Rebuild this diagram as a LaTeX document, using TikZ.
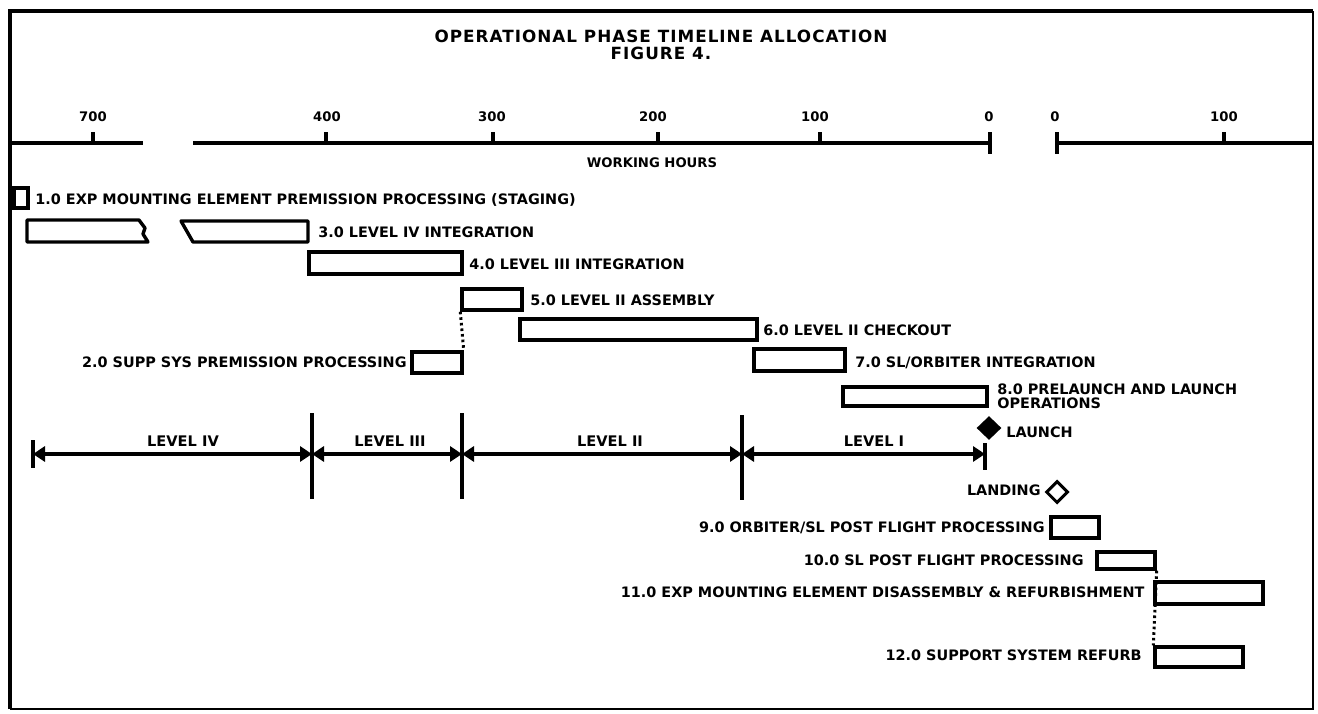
\documentclass[tikz,border=0pt]{standalone}
\usepackage{fontspec}
\setmainfont{DejaVu Sans}
\newfontfamily\ttlfont{DejaVu Sans}[LetterSpace=6]
\usetikzlibrary{arrows.meta,shapes.geometric,fit}
\begin{document}
\begin{tikzpicture}[x=0.5pt,y=-0.5pt,
  every node/.style={inner sep=0pt},
  bar/.style={draw, line width=1.7pt, inner sep=0pt},
  barline/.style={line width=1.7pt, line join=round},
  lbl/.style={font=\fontsize{7.2}{7.2}\selectfont\bfseries, text height=5.25pt, text depth=0pt},
  lbltwo/.style={font=\fontsize{7.2}{7}\selectfont\bfseries, align=left},
  axlbl/.style={font=\fontsize{6.6}{6.6}\selectfont\bfseries, text height=4.8pt, text depth=0pt},
  lvllbl/.style={font=\fontsize{7.3}{7.3}\selectfont\bfseries, text height=5.3pt, text depth=0pt},
  ttl/.style={font=\fontsize{8.4}{8.4}\selectfont\ttlfont\bfseries, text height=6.1pt, text depth=0pt},
  axisline/.style={line width=1.7pt},
  tickline/.style={line width=1.7pt},
  divline/.style={line width=1.8pt},
  lvl/.style={line width=1.7pt, {Triangle[length=6pt,width=7.5pt]}-{Triangle[length=6pt,width=7.5pt]}},
  dotline/.style={line width=1.5pt, dash pattern=on 1.3pt off 1.5pt},
]
\useasboundingbox (0,0) rectangle (1318,713);
% frame
\draw[line width=1.3pt] (1313,11) -- (1313,709) -- (10,709);
\draw[line width=2.4pt] (10,709) -- (10,11) -- (1313,11);

% title
\node[ttl] (title) at (661,36) {OPERATIONAL PHASE TIMELINE ALLOCATION};
\node[ttl] (figno) at (661,53) {FIGURE 4.};

% axis
\draw[axisline] (10,143) -- (143,143);
\draw[axisline] (193,143) -- (990,143);
\draw[axisline] (1057,143) -- (1313,143);
\foreach \x in {93,326,493,658,820,1224} \draw[tickline] (\x,143) -- (\x,132);
\draw[tickline] (990,132) -- (990,154);
\draw[tickline] (1057,132) -- (1057,154);
\node[axlbl] (a700) at (93,117) {700};
\node[axlbl] (a400) at (327,117) {400};
\node[axlbl] (a300) at (492,117) {300};
\node[axlbl] (a200) at (653,117) {200};
\node[axlbl] (a100) at (815,117) {100};
\node[axlbl] (a0) at (989,117) {0};
\node[axlbl] (b0) at (1055,117) {0};
\node[axlbl] (b100) at (1224,117) {100};
\node[axlbl] (wh) at (652,163) {WORKING HOURS};

% bars
\node[bar, fit={(14,188) (28,208)}] (b1) {};
\node[lbl, anchor=west] (t1) at (35,199) {1.0 EXP MOUNTING ELEMENT PREMISSION PROCESSING (STAGING)};

\draw[barline] (27,220) -- (139,220) -- (145,228) -- (143,234) -- (148,242) -- (27,242) -- cycle;
\draw[barline] (181,221) -- (308,221) -- (308,242) -- (193,242) -- cycle;
\coordinate (b3) at (308,231);
\node[lbl, anchor=west] (t3) at (318,232) {3.0 LEVEL IV INTEGRATION};

\node[bar, fit={(309,252) (462,274)}] (b4) {};
\node[lbl, anchor=west] (t4) at (469,264) {4.0 LEVEL III INTEGRATION};

\node[bar, fit={(462,289) (522,310)}] (b5) {};
\node[lbl, anchor=west] (t5) at (530,300) {5.0 LEVEL II ASSEMBLY};

\node[bar, fit={(520,319) (757,340)}] (b6) {};
\node[lbl, anchor=west] (t6) at (763,330) {6.0 LEVEL II CHECKOUT};

\node[bar, fit={(412,352) (462,373)}] (b2) {};
\node[lbl, anchor=east] (t2) at (407,362) {2.0 SUPP SYS PREMISSION PROCESSING};
\draw[dotline] (b5.south west) -- (b2.north east);

\node[bar, fit={(754,349) (845,371)}] (b7) {};
\node[lbl, anchor=west] (t7) at (855,362) {7.0 SL/ORBITER INTEGRATION};

\node[bar, fit={(843,387) (987,406)}] (b8) {};
\node[lbltwo, anchor=north west] (t8) at (997,383) {8.0 PRELAUNCH AND LAUNCH\\OPERATIONS};

% levels
\coordinate (d0) at (33,454);
\coordinate (d1) at (312,454);
\coordinate (d2) at (462,454);
\coordinate (d3) at (742,454);
\coordinate (d4) at (985,454);
\draw[divline] (33,440) -- (33,468);
\draw[divline] (312,413) -- (312,499);
\draw[divline] (462,413) -- (462,499);
\draw[divline] (742,415) -- (742,500);
\draw[divline] (985,443) -- (985,470);
\draw[lvl] (d0) -- (d1);
\draw[lvl] (d1) -- (d2);
\draw[lvl] (d2) -- (d3);
\draw[lvl] (d3) -- (d4);
\node[lvllbl] (l4) at (183,441) {LEVEL IV};
\node[lvllbl] (l3) at (390,441) {LEVEL III};
\node[lvllbl] (l2) at (610,441) {LEVEL II};
\node[lvllbl] (l1) at (874,441) {LEVEL I};

\node[diamond, fill, minimum width=12.5pt, minimum height=12pt] (launch) at (989,428) {};
\node[lbl, anchor=west] (tl) at (1006,432) {LAUNCH};
\node[diamond, draw, line width=1.5pt, minimum width=11pt, minimum height=11pt] (landing) at (1057,492) {};
\node[lbl, anchor=east] (tld) at (1041,490) {LANDING};

\node[bar, fit={(1051,517) (1099,538)}] (b9) {};
\node[lbl, anchor=east] (t9) at (1045,527) {9.0 ORBITER/SL POST FLIGHT PROCESSING};

\node[bar, fit={(1097,552) (1155,569)}] (b10) {};
\node[lbl, anchor=east] (t10) at (1084,560) {10.0 SL POST FLIGHT PROCESSING};

\node[bar, fit={(1155,582) (1263,604)}] (b11) {};
\node[lbl, anchor=east] (t11) at (1145,592) {11.0 EXP MOUNTING ELEMENT DISASSEMBLY \& REFURBISHMENT};

\node[bar, fit={(1155,647) (1243,667)}] (b12) {};
\node[lbl, anchor=east] (t12) at (1142,655) {12.0 SUPPORT SYSTEM REFURB};
\draw[dotline] (b10.south east) -- (b12.north west);
\end{tikzpicture}
\end{document}
